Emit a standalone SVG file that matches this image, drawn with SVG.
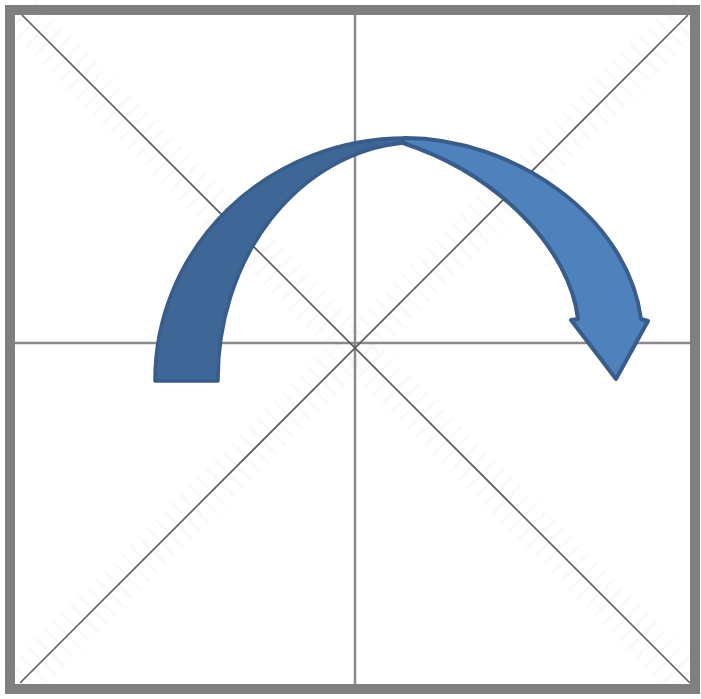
<svg xmlns="http://www.w3.org/2000/svg" width="701" height="699" viewBox="0 0 701 699">
  <style>
    .frame { fill: none; stroke: #7f7f7f; stroke-width: 10; }
    .axis { stroke: #8a8a8a; stroke-width: 2.5; fill: none; }
    .diag { stroke: #5a5a5a; stroke-width: 1.6; fill: none; }
    .wm { stroke: #eeeeee; stroke-width: 40; fill: none; stroke-dasharray: 3 9; opacity: 0.35; }
    .back { fill: #3e6697; stroke: #385d8a; stroke-width: 3.5; stroke-linejoin: round; }
    .front { fill: #4f81bd; stroke: #385d8a; stroke-width: 4; stroke-linejoin: round; }
  </style>
  <rect x="0" y="0" width="701" height="699" fill="#ffffff"/>
  <g id="grid">
    <line class="wm" x1="22" y1="15" x2="690" y2="683"/>
    <line class="wm" x1="688" y1="15" x2="20" y2="683"/>
    <line class="axis" x1="355" y1="15" x2="355" y2="684"/>
    <line class="axis" x1="15" y1="343" x2="690" y2="343"/>
    <line class="diag" x1="22" y1="15" x2="690" y2="683"/>
    <line class="diag" x1="688" y1="15" x2="20" y2="683"/>
    <rect class="frame" x="10" y="10" width="685" height="679"/>
  </g>
  <g id="arrow">
    <path class="back" d="M155,381 A250,242 0 0 1 405,138 L403,143 A202,237 0 0 0 218,381 Z"/>
    <path class="front" d="M403,140 L405,138 C512,138 627,215 641,319 L648,321 L616,379 L571,320 L578,319 C570,250 500,175 403,143 Z"/>
  </g>
</svg>
